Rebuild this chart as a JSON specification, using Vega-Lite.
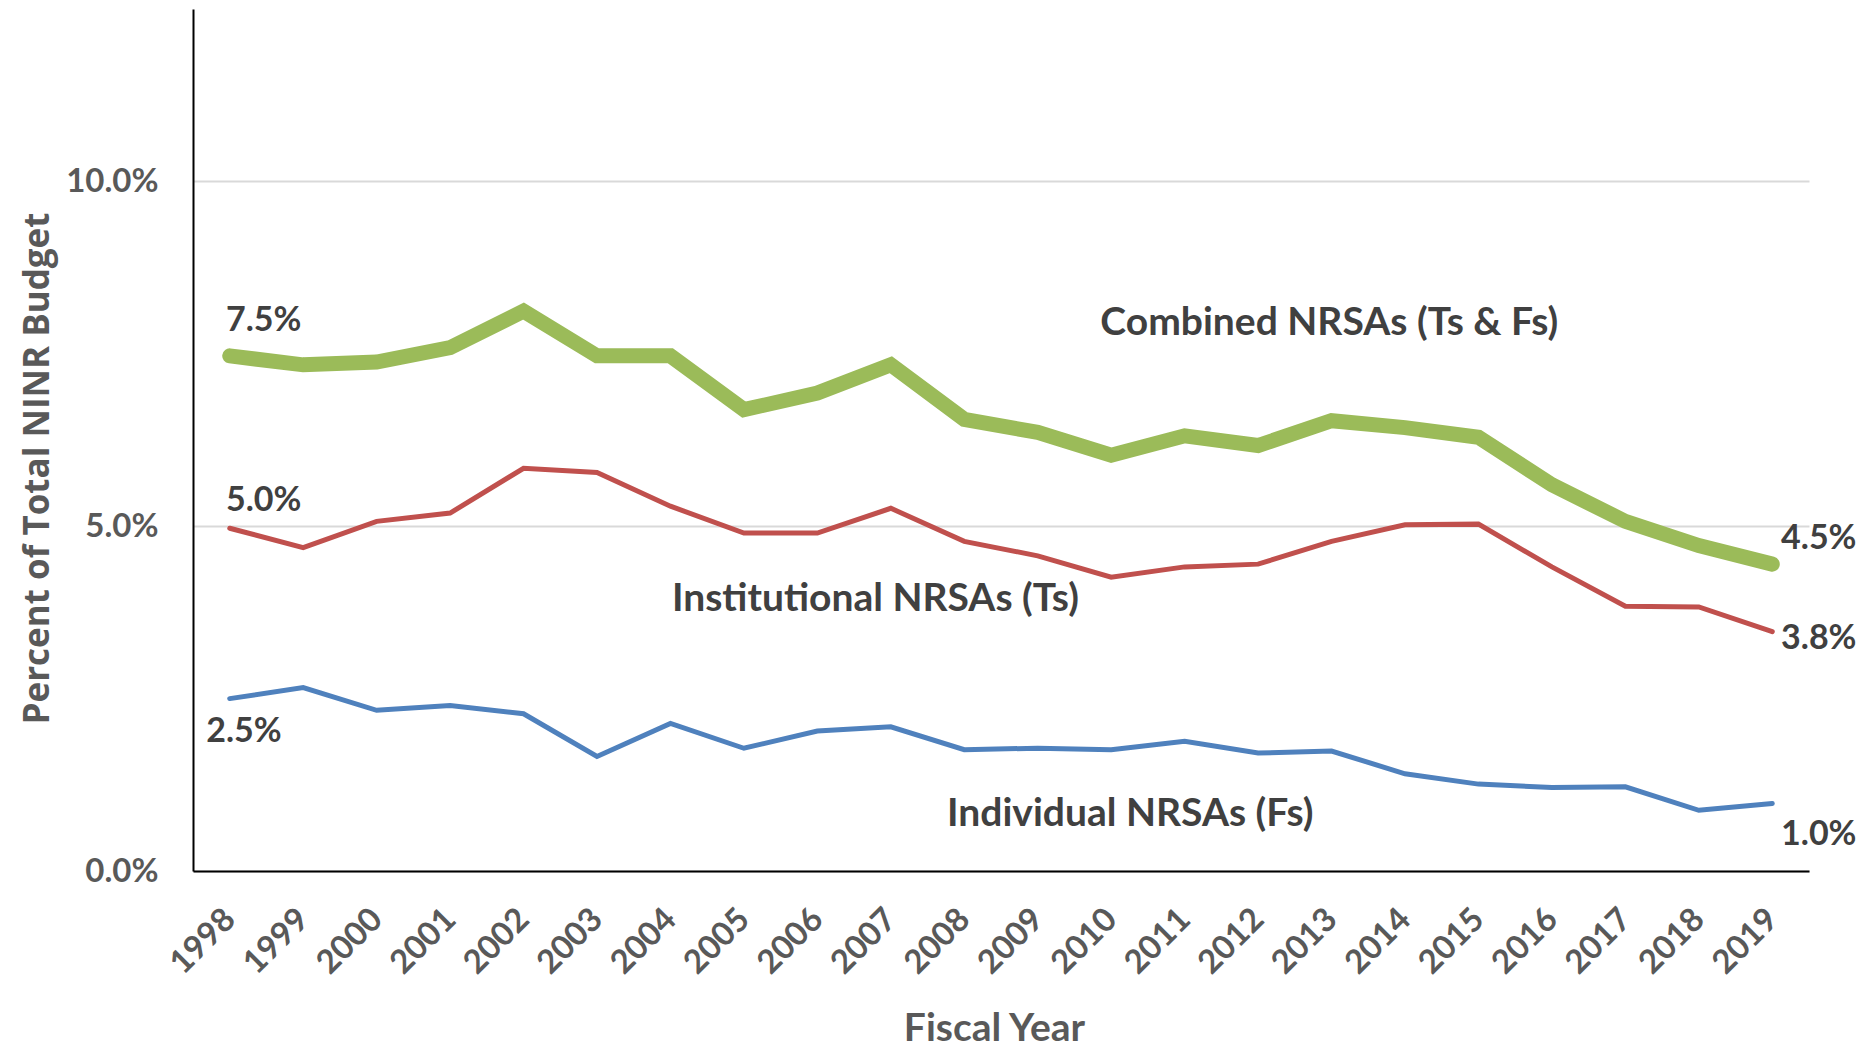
{
  "$schema": "https://vega.github.io/schema/vega-lite/v6.json",
  "autosize": {"type": "none"},
  "width": 1616,
  "height": 862,
  "padding": {"left": 193, "top": 9, "right": 56, "bottom": 176},
  "background": "white",
  "config": {"view": {"stroke": null}, "font": "Lato"},
  "datasets": {
    "series": [
      {"year": 1998, "series": "Combined", "value": 7.47},
      {"year": 1999, "series": "Combined", "value": 7.34},
      {"year": 2000, "series": "Combined", "value": 7.38},
      {"year": 2001, "series": "Combined", "value": 7.59},
      {"year": 2002, "series": "Combined", "value": 8.12},
      {"year": 2003, "series": "Combined", "value": 7.47},
      {"year": 2004, "series": "Combined", "value": 7.47},
      {"year": 2005, "series": "Combined", "value": 6.69},
      {"year": 2006, "series": "Combined", "value": 6.93},
      {"year": 2007, "series": "Combined", "value": 7.34},
      {"year": 2008, "series": "Combined", "value": 6.55},
      {"year": 2009, "series": "Combined", "value": 6.36},
      {"year": 2010, "series": "Combined", "value": 6.03},
      {"year": 2011, "series": "Combined", "value": 6.31},
      {"year": 2012, "series": "Combined", "value": 6.17},
      {"year": 2013, "series": "Combined", "value": 6.53},
      {"year": 2014, "series": "Combined", "value": 6.43},
      {"year": 2015, "series": "Combined", "value": 6.29},
      {"year": 2016, "series": "Combined", "value": 5.60},
      {"year": 2017, "series": "Combined", "value": 5.07},
      {"year": 2018, "series": "Combined", "value": 4.72},
      {"year": 2019, "series": "Combined", "value": 4.45},
      {"year": 1998, "series": "Institutional", "value": 4.97},
      {"year": 1999, "series": "Institutional", "value": 4.69},
      {"year": 2000, "series": "Institutional", "value": 5.07},
      {"year": 2001, "series": "Institutional", "value": 5.19},
      {"year": 2002, "series": "Institutional", "value": 5.84},
      {"year": 2003, "series": "Institutional", "value": 5.78},
      {"year": 2004, "series": "Institutional", "value": 5.29},
      {"year": 2005, "series": "Institutional", "value": 4.90},
      {"year": 2006, "series": "Institutional", "value": 4.90},
      {"year": 2007, "series": "Institutional", "value": 5.26},
      {"year": 2008, "series": "Institutional", "value": 4.78},
      {"year": 2009, "series": "Institutional", "value": 4.57},
      {"year": 2010, "series": "Institutional", "value": 4.26},
      {"year": 2011, "series": "Institutional", "value": 4.41},
      {"year": 2012, "series": "Institutional", "value": 4.45},
      {"year": 2013, "series": "Institutional", "value": 4.78},
      {"year": 2014, "series": "Institutional", "value": 5.02},
      {"year": 2015, "series": "Institutional", "value": 5.03},
      {"year": 2016, "series": "Institutional", "value": 4.41},
      {"year": 2017, "series": "Institutional", "value": 3.84},
      {"year": 2018, "series": "Institutional", "value": 3.83},
      {"year": 2019, "series": "Institutional", "value": 3.47},
      {"year": 1998, "series": "Individual", "value": 2.50},
      {"year": 1999, "series": "Individual", "value": 2.66},
      {"year": 2000, "series": "Individual", "value": 2.33},
      {"year": 2001, "series": "Individual", "value": 2.40},
      {"year": 2002, "series": "Individual", "value": 2.28},
      {"year": 2003, "series": "Individual", "value": 1.66},
      {"year": 2004, "series": "Individual", "value": 2.14},
      {"year": 2005, "series": "Individual", "value": 1.78},
      {"year": 2006, "series": "Individual", "value": 2.03},
      {"year": 2007, "series": "Individual", "value": 2.09},
      {"year": 2008, "series": "Individual", "value": 1.76},
      {"year": 2009, "series": "Individual", "value": 1.78},
      {"year": 2010, "series": "Individual", "value": 1.76},
      {"year": 2011, "series": "Individual", "value": 1.88},
      {"year": 2012, "series": "Individual", "value": 1.71},
      {"year": 2013, "series": "Individual", "value": 1.74},
      {"year": 2014, "series": "Individual", "value": 1.41},
      {"year": 2015, "series": "Individual", "value": 1.26},
      {"year": 2016, "series": "Individual", "value": 1.21},
      {"year": 2017, "series": "Individual", "value": 1.22},
      {"year": 2018, "series": "Individual", "value": 0.88},
      {"year": 2019, "series": "Individual", "value": 0.98}
    ],
    "valueLabels": [
      {"year": 1997.95, "value": 7.97, "label": "7.5%"},
      {"year": 1997.95, "value": 5.37, "label": "5.0%"},
      {"year": 1997.68, "value": 2.02, "label": "2.5%"},
      {"year": 2019.12, "value": 4.81, "label": "4.5%"},
      {"year": 2019.12, "value": 3.36, "label": "3.8%"},
      {"year": 2019.12, "value": 0.52, "label": "1.0%"}
    ],
    "seriesLabels": [
      {"year": 2012.97, "value": 7.95, "label": "Combined NRSAs (Ts & Fs)"},
      {"year": 2006.79, "value": 3.95, "label": "Institutional NRSAs (Ts)"},
      {"year": 2010.26, "value": 0.83, "label": "Individual NRSAs (Fs)"}
    ]
  },
  "layer": [
    {
      "data": {"name": "series"},
      "mark": {"type": "line", "strokeCap": "round", "strokeJoin": "miter", "clip": false},
      "encoding": {
        "x": {
          "field": "year", "type": "quantitative",
          "scale": {"domain": [1997.5, 2019.5], "nice": false, "zero": false},
          "axis": {
            "title": "Fiscal Year",
            "values": [1998,1999,2000,2001,2002,2003,2004,2005,2006,2007,2008,2009,2010,2011,2012,2013,2014,2015,2016,2017,2018,2019],
            "format": "d",
            "grid": false, "ticks": false,
            "domainColor": "#000000", "domainWidth": 2,
            "labelAngle": -45, "labelAlign": "right", "labelBaseline": "middle",
            "labelPadding": 43,
            "labelFont": "Lato", "labelFontWeight": "bold", "labelFontSize": 33, "labelColor": "#595959",
            "labelOverlap": false, "labelFlush": false,
            "titleFont": "Lato", "titleFontWeight": "bold", "titleFontSize": 39, "titleColor": "#595959",
            "titleX": 801, "titleY": 169, "titleBaseline": "alphabetic"
          }
        },
        "y": {
          "field": "value", "type": "quantitative",
          "scale": {"domain": [0, 12.5], "nice": false},
          "axis": {
            "title": "Percent of Total NINR Budget",
            "values": [0, 5, 10],
            "labelExpr": "format(datum.value, '.1f') + '%'",
            "grid": true, "gridColor": "#D9D9D9", "gridWidth": 2,
            "ticks": false,
            "domainColor": "#000000", "domainWidth": 2,
            "labelPadding": 35,
            "labelFont": "Lato", "labelFontWeight": "bold", "labelFontSize": 33, "labelColor": "#595959",
            "titleFont": "Open Sans", "titleFontWeight": "bold", "titleFontSize": 35, "titleColor": "#595959",
            "titleAngle": -90, "titleX": -156, "titleY": 459, "titleAlign": "center", "titleBaseline": "middle"
          }
        },
        "color": {
          "field": "series", "type": "nominal",
          "scale": {"domain": ["Combined", "Institutional", "Individual"], "range": ["#9BBB59", "#C0504D", "#4F81BD"]},
          "legend": null
        },
        "strokeWidth": {
          "field": "series", "type": "nominal",
          "scale": {"type": "ordinal", "domain": ["Combined", "Institutional", "Individual"], "range": [15, 5, 5]},
          "legend": null
        }
      }
    },
    {
      "data": {"name": "valueLabels"},
      "mark": {"type": "text", "align": "left", "baseline": "middle", "font": "Lato", "fontWeight": "bold", "fontSize": 34, "color": "#404040", "clip": false},
      "encoding": {
        "x": {"field": "year", "type": "quantitative"},
        "y": {"field": "value", "type": "quantitative"},
        "text": {"field": "label"}
      }
    },
    {
      "data": {"name": "seriesLabels"},
      "mark": {"type": "text", "align": "center", "baseline": "middle", "font": "Lato", "fontWeight": "bold", "fontSize": 39, "color": "#404040", "clip": false},
      "encoding": {
        "x": {"field": "year", "type": "quantitative"},
        "y": {"field": "value", "type": "quantitative"},
        "text": {"field": "label"}
      }
    }
  ]
}
